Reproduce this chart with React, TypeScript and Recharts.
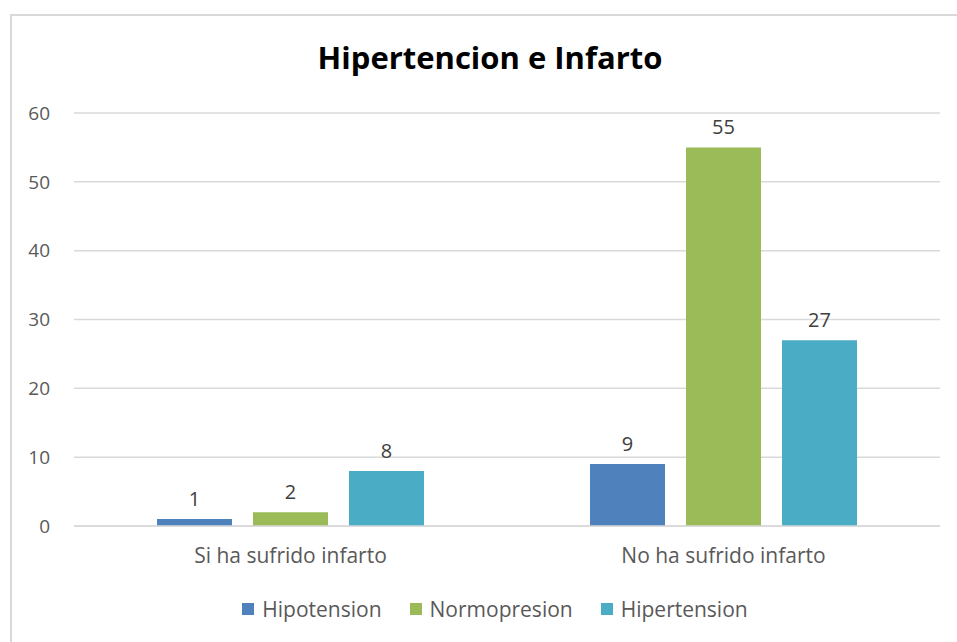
import React from 'react';
import { BarChart, Bar, XAxis, YAxis, CartesianGrid, Legend, LabelList } from 'recharts';

const categories = ['Si ha sufrido infarto', 'No ha sufrido infarto'];
const hipotension = [1, 9];
const normopresion = [2, 55];
const hipertension = [8, 27];
const yTicks = [0, 10, 20, 30, 40, 50, 60];

const SERIES = [
  { key: 'Hipotension', color: '#4F81BD' },
  { key: 'Normopresion', color: '#9BBB59' },
  { key: 'Hipertension', color: '#4BACC6' },
];

const data = categories.map((name, i) => ({
  name,
  Hipotension: hipotension[i],
  Normopresion: normopresion[i],
  Hipertension: hipertension[i],
}));

const FONT = '"Open Sans", sans-serif';

const LegendContent = () => (
  <div style={{ display: 'flex', justifyContent: 'center', gap: 28, fontFamily: FONT, fontSize: 21, color: '#595959', height: 30, alignItems: 'center', paddingLeft: 42 }}>
    {SERIES.map((s) => (
      <div key={s.key} style={{ display: 'flex', alignItems: 'center', gap: 8 }}>
        <div style={{ width: 12, height: 12, backgroundColor: s.color }}></div>
        {s.key}
      </div>
    ))}
  </div>
);

export default function App() {
  // fixed full-window frame so nothing spills into scrollbars
  return (
    <div style={{ position: 'fixed', left: 0, top: 0, width: 957, height: 642, overflow: 'hidden', background: '#fff' }}>
      <div style={{ position: 'absolute', left: 10, top: 14, width: 1200, height: 1200, borderLeft: '2px solid #d9d9d9', borderTop: '2px solid #d9d9d9' }}></div>
      <div style={{ position: 'absolute', left: 8, width: 964, top: 36, textAlign: 'center', fontFamily: FONT, fontWeight: 700, fontSize: 31, color: '#000' }}>
        Hipertencion e Infarto
      </div>
      <BarChart
        width={949}
        height={634}
        data={data}
        margin={{ top: 105, right: 17, bottom: 18, left: 0 }}
        barSize={75}
        barGap={21}
        style={{ position: 'absolute', left: 8, top: 8 }}
      >
        <CartesianGrid vertical={false} stroke="#d9d9d9" strokeWidth={1.5} />
        <XAxis
          dataKey="name"
          height={68}
          axisLine={{ stroke: '#d9d9d9', strokeWidth: 1.5 }}
          tickLine={false}
          tickSize={0}
          tickMargin={22}
          tick={{ fill: '#595959', fontSize: 21, fontFamily: FONT }}
        />
        <YAxis
          domain={[0, 60]}
          ticks={yTicks}
          width={66}
          axisLine={false}
          tickLine={false}
          tickSize={0}
          tickMargin={24}
          tick={{ fill: '#595959', fontSize: 19, fontFamily: FONT }}
        />
        <Legend verticalAlign="bottom" content={<LegendContent />} />
        {SERIES.map((s) => (
          <Bar key={s.key} dataKey={s.key} fill={s.color} isAnimationActive={false}>
            <LabelList dataKey={s.key} position="top" offset={13} fill="#404040" fontSize={20} fontFamily={FONT} />
          </Bar>
        ))}
      </BarChart>
    </div>
  );
}
